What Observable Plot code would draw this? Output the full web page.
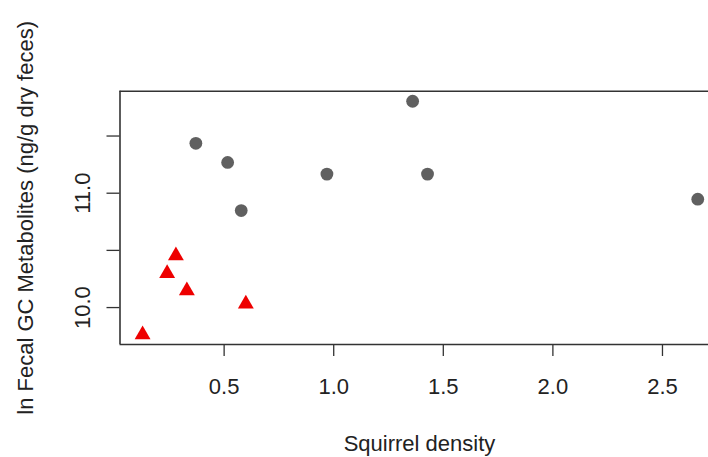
<!DOCTYPE html>
<html>
<head>
<meta charset="utf-8">
<script src="https://cdn.jsdelivr.net/npm/d3@7"></script>
<script src="https://cdn.jsdelivr.net/npm/@observablehq/plot@0.6"></script>
<style>
  html, body { margin: 0; padding: 0; background: white; overflow: hidden; }
</style>
</head>
<body>
<div id="chart"></div>
<script>
// Group A (grey circles)
const circleDensity = [0.371, 0.516, 0.578, 0.969, 1.360, 1.428, 2.661];
const circleGC      = [11.436, 11.269, 10.848, 11.167, 11.804, 11.167, 10.948];
// Group B (red triangles)
const triDensity = [0.280, 0.240, 0.330, 0.599, 0.128];
const triGC      = [10.453, 10.299, 10.148, 10.031, 9.763];

const xTicks = [0.5, 1.0, 1.5, 2.0, 2.5];
const yTicks = [10.0, 10.5, 11.0, 11.5];
const yLabelTicks = [10.0, 11.0];

const xTitle = "Squirrel density";
const yTitle = "ln Fecal GC Metabolites (ng/g dry feces)";

const circles = circleDensity.map((d, i) => ({x: d, y: circleGC[i]}));
const triangles = triDensity.map((d, i) => ({x: d, y: triGC[i]}));

const font = "'Liberation Sans', Arial, sans-serif";
const ink = "#222";
const fs = 22;

const chart = Plot.plot({
  width: 708,
  height: 457,
  marginLeft: 119.5,
  marginRight: 0,
  marginTop: 90.7,
  marginBottom: 113,
  style: {fontFamily: font, fontSize: fs + "px", color: ink, background: "white"},
  x: {domain: [0.0249, 2.710]},
  y: {domain: [9.677, 11.892]},
  marks: [
    Plot.axisX({ticks: xTicks, tickSize: 12, tickPadding: 22, tickFormat: d3.format(".1f"), label: null, stroke: "#333", strokeWidth: 1.3, fontSize: fs}),
    Plot.axisY({ticks: yTicks, tickSize: 13, tickFormat: () => "", label: null, stroke: "#333", strokeWidth: 1.3}),
    Plot.text(yLabelTicks, {y: d => d, text: d => d3.format(".1f")(d), frameAnchor: "left", rotate: -90, dx: -37, textAnchor: "middle", lineAnchor: "middle", fontSize: fs, fill: ink}),
    Plot.ruleY([11.892], {stroke: "#333", strokeWidth: 1.6}),
    Plot.ruleY([9.677], {stroke: "#333", strokeWidth: 1.6}),
    Plot.ruleX([0.0249], {stroke: "#333", strokeWidth: 1.6}),
    Plot.dot(circles, {x: "x", y: "y", r: 6.4, symbol: "circle", fill: "#606060", stroke: "none"}),
    Plot.dot(triangles, {x: "x", y: "y", r: 5.9, symbol: "triangle", fill: "#ee0000", stroke: "none"}),
    Plot.text([xTitle], {text: d => d, frameAnchor: "bottom-left", dx: 419 - 119.5, dy: 99, textAnchor: "middle", lineAnchor: "middle", fontSize: fs, fill: ink}),
    Plot.text([yTitle], {text: d => d, frameAnchor: "left", dx: 25 - 119.5, rotate: -90, textAnchor: "middle", lineAnchor: "middle", fontSize: fs, fill: ink})
  ]
});
document.getElementById("chart").appendChild(chart);
</script>
</body>
</html>
